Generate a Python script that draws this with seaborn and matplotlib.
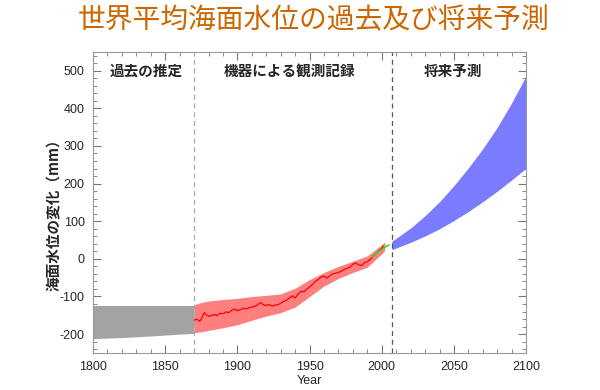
import numpy as np
import pandas as pd
import seaborn as sns
import matplotlib
import matplotlib.pyplot as plt
from matplotlib.ticker import MultipleLocator

matplotlib.use("Agg")

# 過去の推定 (灰色の帯)
past_years = [1800, 1820, 1840, 1860, 1870]
past_upper = [-124, -124, -124, -124, -124]
past_lower = [-212, -209, -205, -200, -198]

# 機器による観測記録 (赤い帯)
band_years = [1870, 1875, 1880, 1890, 1900, 1910, 1920, 1930, 1940, 1950, 1960, 1970, 1980, 1990, 2000, 2002]
band_upper = [-122, -116, -112, -108, -105, -100, -97, -93, -78, -55, -36, -20, -6, 8, 38, 44]
band_lower = [-196, -194, -190, -183, -175, -163, -152, -143, -128, -100, -72, -52, -36, -22, 14, 22]

# 検潮所記録 (赤線)
tide_years = [1870, 1872, 1874, 1876, 1877, 1879, 1880, 1882, 1884, 1886, 1888, 1890,
              1892, 1894, 1896, 1898, 1900, 1902, 1904, 1906, 1908, 1910, 1912, 1914,
              1916, 1918, 1920, 1922, 1924, 1926, 1928, 1930, 1932, 1934, 1936, 1938,
              1940, 1942, 1944, 1946, 1948, 1950, 1952, 1954, 1956, 1958, 1960, 1962,
              1964, 1966, 1968, 1970, 1972, 1974, 1976, 1978, 1980, 1982, 1984, 1986,
              1988, 1990, 1992, 1994, 1996, 1998, 2000, 2001]
tide_level = [-163, -160, -166, -152, -143, -150, -153, -150, -148, -151, -144, -146,
              -141, -143, -137, -133, -138, -135, -131, -133, -130, -128, -126, -122,
              -116, -122, -124, -121, -126, -123, -122, -118, -113, -110, -104, -98,
              -104, -94, -86, -88, -80, -75, -68, -60, -55, -48, -46, -51,
              -45, -40, -38, -36, -33, -28, -25, -22, -14, -11, -16, -18,
              -10, -7, -2, 8, 14, 22, 28, 34]

# 衛星観測 (緑線)
sat_years = [1993, 1995, 1997, 1999, 2001, 2003, 2005]
sat_level = [5, 12, 18, 22, 28, 33, 37]

# 将来予測 (青い帯)
proj_years = [2007, 2010, 2020, 2030, 2040, 2050, 2060, 2070, 2080, 2090, 2100]
proj_upper = [47, 55, 82, 115, 152, 195, 242, 293, 350, 415, 487]
proj_lower = [24, 29, 44, 61, 80, 102, 126, 152, 180, 210, 241]

sns.set_theme(style="white")
plt.rcParams["font.family"] = ["Liberation Sans", "Noto Sans CJK JP", "DejaVu Sans"]
plt.rcParams["axes.unicode_minus"] = False
cjk = ["Noto Sans CJK JP", "DejaVu Sans"]

fig = plt.figure(figsize=(6, 3.9), dpi=100)
ax = fig.add_axes([0.155, 0.095, 0.722, 0.772])

ax.fill_between(past_years, past_lower, past_upper, color="#a3a3a3", lw=0)
ax.fill_between(band_years, band_lower, band_upper, color="#ff7f7f", lw=0)
ax.fill_between(proj_years, proj_lower, proj_upper, color="#7b7bff", lw=0)

tide_df = pd.DataFrame({"year": tide_years, "level": tide_level})
sat_df = pd.DataFrame({"year": sat_years, "level": sat_level})
sns.lineplot(data=tide_df, x="year", y="level", color="red", lw=0.9, ax=ax)
sns.lineplot(data=sat_df, x="year", y="level", color="#33dd33", lw=1.2, ax=ax)

ax.axvline(1870, color="#aaaaaa", ls=(0, (4, 3)), lw=0.9)
ax.axvline(2007, color="#555555", ls=(0, (4, 3)), lw=0.9)

ax.set_xlim(1800, 2100)
ax.set_ylim(-250, 550)
ax.xaxis.set_major_locator(MultipleLocator(50))
ax.xaxis.set_minor_locator(MultipleLocator(10))
ax.yaxis.set_major_locator(MultipleLocator(100))
ax.yaxis.set_minor_locator(MultipleLocator(20))
ax.tick_params(which="both", direction="in", top=True, right=True,
               bottom=True, left=True, color="#777777", labelsize=9, pad=6)
ax.tick_params(which="major", length=6, width=0.8)
ax.tick_params(which="minor", length=3, width=0.6)
for s in ax.spines.values():
    s.set_color("#999999")
    s.set_linewidth(0.8)

ax.set_xlabel("Year", fontsize=9, labelpad=1)
ax.set_ylabel("海面水位の変化（mm）", fontsize=10.5, fontweight="bold", family=cjk)
ax.yaxis.set_label_coords(-0.072, 0.47)

label_kw = dict(fontsize=10.5, fontweight="bold", family=cjk, ha="center", va="center")
ax.text(1837, 500, "過去の推定", **label_kw)
ax.text(1936, 500, "機器による観測記録", **label_kw)
ax.text(2049, 500, "将来予測", **label_kw)

fig.text(0.523, 0.948, "世界平均海面水位の過去及び将来予測", fontsize=20,
         color="#cc6600", family=cjk, ha="center", va="center", style="italic")

fig.savefig("out.png", dpi=100)
